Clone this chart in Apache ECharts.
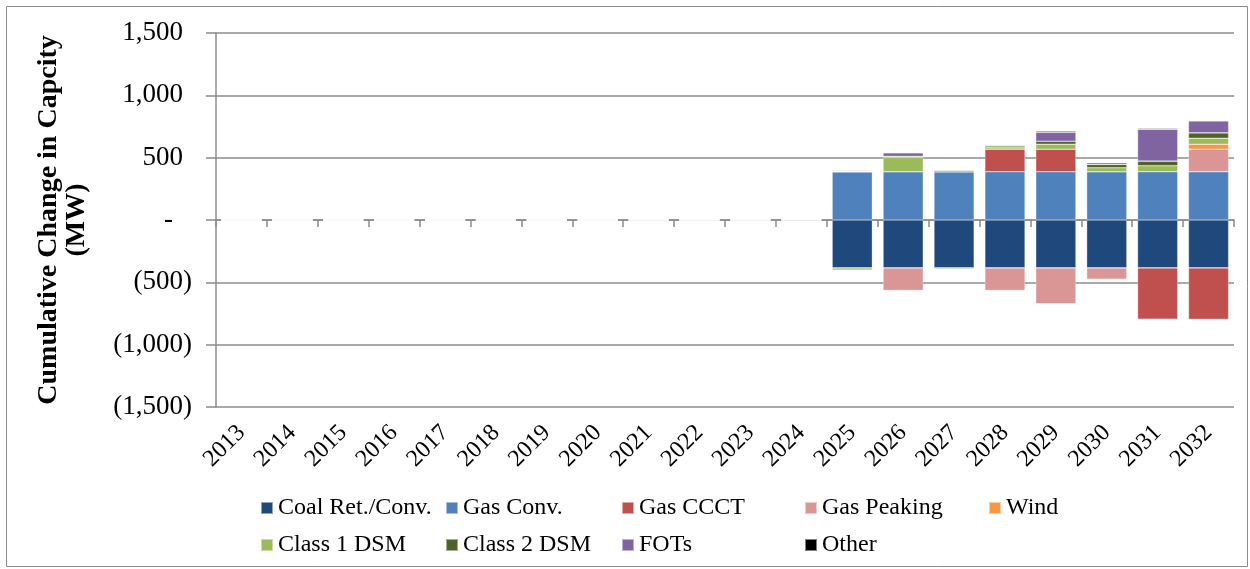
<!DOCTYPE html>
<html><head><meta charset="utf-8">
<script src="https://cdn.jsdelivr.net/npm/echarts@6/dist/echarts.min.js"></script>
<style>html,body{margin:0;padding:0;background:#fff}#c{width:1250px;height:569px}</style>
</head><body><div id="c"></div>
<script>
const years = ['2013','2014','2015','2016','2017','2018','2019','2020','2021','2022','2023','2024','2025','2026','2027','2028','2029','2030','2031','2032'];
const yTicks = [-1500,-1000,-500,0,500,1000,1500];
const coal     = [0,0,0,0,0,0,0,0,0,0,0,0,-384,-384,-384,-384,-384,-384,-384,-384];
const gasConv  = [0,0,0,0,0,0,0,0,0,0,0,0,387,387,387,387,387,387,387,387];
const gasCCCT  = [0,0,0,0,0,0,0,0,0,0,0,0,0,0,0,181,181,0,-413,-413];
const gasPeak  = [0,0,0,0,0,0,0,0,0,0,0,0,0,-181,0,-181,-288,-91,0,181];
const wind     = [0,0,0,0,0,0,0,0,0,0,0,0,0,0,0,0,0,0,0,40];
const dsm1     = [0,0,0,0,0,0,0,0,0,0,0,3,-18,115,-10,13,40,32,48,48];
const dsm2     = [0,0,0,0,0,0,0,0,5,5,5,0,5,8,12,12,24,27,37,43];
const fots     = [0,0,0,0,0,0,0,0,0,0,0,5,8,29,0,8,72,14,256,96];
const other    = [0,0,0,0,0,0,0,0,0,0,0,0,0,0,0,3,8,3,6,5];

const names = ['Coal Ret./Conv.','Gas Conv.','Gas CCCT','Gas Peaking','Wind','Class 1 DSM','Class 2 DSM','FOTs','Other'];
const colors = ['#1F497D','#4F81BD','#C0504D','#D99694','#F79646','#9BBB59','#4F6228','#8064A2','#000000'];
const datas = [coal,gasConv,gasCCCT,gasPeak,wind,dsm1,dsm2,fots,other];

const font = 'Liberation Serif';
function fmt(v){
  if (v === 0) return '{z|-}';
  const s = Math.abs(v).toLocaleString('en-US');
  return v < 0 ? '{n|(' + s + ')}' : '{p|' + s + '}';
}
const lblBase = {fontFamily:font, fontSize:27, color:'#000'};
const series = names.map((n,i)=>({
  name:n, type:'bar', stack:'a', xAxisIndex:0, data:datas[i],
  barCategoryGap:'21%',
  itemStyle:{color:colors[i], borderColor:'rgba(255,255,255,0.5)', borderWidth:0.6},
  emphasis:{disabled:true}
}));
const legendPos = [[255,491],[440,491],[616,491],[799,491],[983,491],[255,528],[440,528],[616,528],[799,528]];
const legends = names.map((n,i)=>({
  data:[n], left:legendPos[i][0], top:legendPos[i][1], itemWidth:12, itemHeight:12, itemGap:0,
  icon:'rect', textStyle:{fontFamily:font, fontSize:24, color:'#000'}, selectedMode:false
}));
const chart = echarts.init(document.getElementById('c'));
chart.setOption({
  animation:false,
  textStyle:{fontFamily:font},
  graphic:[{type:'rect', shape:{x:6.5,y:6.5,width:1241,height:560}, style:{fill:'none', stroke:'#8c8c8c', lineWidth:1}, silent:true}],
  legend:legends,
  grid:{left:216, right:16, top:33, bottom:162},
  xAxis:[
    {type:'category', data:years, axisLine:{onZero:true, lineStyle:{color:'#8c8c8c', width:1.5}},
     axisTick:{show:true, length:7, lineStyle:{color:'#8c8c8c', width:1.5}}, axisLabel:{show:false}},
    {type:'category', data:years, position:'bottom', axisLine:{show:false}, axisTick:{show:false},
     axisLabel:{rotate:45, fontFamily:font, fontSize:24, color:'#000', margin:22}}
  ],
  yAxis:{type:'value', min:-1500, max:1500, interval:500,
    name:'Cumulative Change in Capcity\n(MW)', nameLocation:'middle', nameGap:125, nameRotate:90,
    nameTextStyle:{fontFamily:font, fontSize:28, fontWeight:'bold', color:'#000', lineHeight:28},
    axisLine:{show:true, lineStyle:{color:'#8c8c8c', width:1.5}},
    axisTick:{show:true, length:10, lineStyle:{color:'#8c8c8c', width:1.5}},
    splitLine:{lineStyle:{color:'#8c8c8c', width:1.5}},
    axisLabel:{formatter:fmt, fontFamily:font, fontSize:27, color:'#000', margin:24,
      rich:{
        p:Object.assign({padding:[0,9,0,0]}, lblBase),
        n:Object.assign({}, lblBase),
        z:Object.assign({padding:[0,19,0,0]}, lblBase)
      }}
  },
  series:series
});
</script></body></html>
